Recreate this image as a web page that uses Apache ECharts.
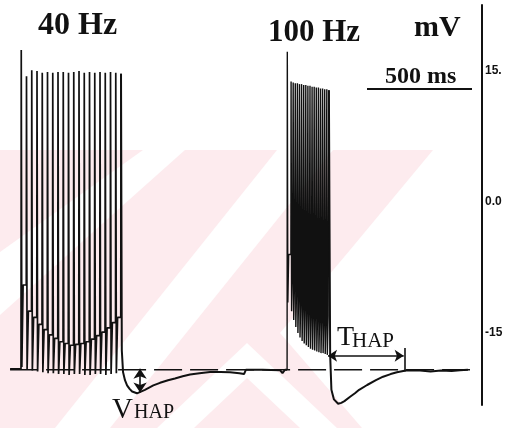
<!DOCTYPE html>
<html><head><meta charset="utf-8">
<script src="https://cdn.jsdelivr.net/npm/echarts@6/dist/echarts.min.js"></script>
<style>html,body{margin:0;padding:0;background:#fff}#c{width:507px;height:428px}</style>
</head><body><div id="c"></div>
<script>
// ---- data (ms, mV) ----
const restingMv = -19.2;
const preBaselineTimes = [-52, 0];
const preBaselineValues = [-19.1, -19.1];

const spikeTimes40 = [0,25,50,75,100,125,150,175,200,225,250,275,300,325,350,375,400,425,450,475];
const spikePeaks40 = [17.4,14.4,15.1,15.0,14.8,14.9,14.8,14.9,14.9,14.8,14.9,15.0,14.8,14.9,14.8,14.9,14.8,14.9,14.8,14.7];
const spikeTroughs40 = [-18.9,-19.2,-19.3,-19.4,-19.5,-19.6,-19.6,-19.7,-19.7,-19.8,-19.7,-19.7,-19.8,-19.8,-19.7,-19.7,-19.8,-19.7,-19.6];
const spikeAdp40 = [-9.5,-12.5,-13.2,-14.0,-14.6,-15.2,-15.6,-16.0,-16.2,-16.4,-16.3,-16.2,-16.0,-15.7,-15.3,-14.9,-14.4,-13.8,-13.2];

const ahp40Times = [480,486,495,505,517,529,552,590,630,662,700,733,770,805,850,900,950,995,1040,1062,1071,1150,1233,1245,1257,1267];
const ahp40Values = [-17.0,-19.5,-20.4,-21.0,-21.4,-21.7,-21.9,-21.5,-21.0,-20.7,-20.4,-20.2,-19.95,-19.75,-19.6,-19.45,-19.45,-19.5,-19.6,-19.7,-19.2,-19.2,-19.25,-19.6,-19.2,-19.2];

const spikeTimes100 = [1267,1285,1295,1305,1315,1325,1335,1345,1355,1365,1375,1385,1395,1405,1415,1425,1435,1445,1455,1465];
const spikePeaks100 = [17.2,13.8,13.7,13.6,13.6,13.5,13.5,13.4,13.4,13.3,13.3,13.2,13.2,13.1,13.1,13.0,13.0,12.9,12.9,12.8];
const spikeTroughs100 = [-11.5,-12.5,-13.5,-14.3,-15.0,-15.5,-15.9,-16.2,-16.4,-16.6,-16.8,-16.9,-17.0,-17.1,-17.2,-17.3,-17.3,-17.4,-17.5];
const spikeAdp100 = [-6,-8,-9,-9.5,-10,-10.5,-11,-11,-11.5,-11.5,-12,-12,-12,-12.5,-12.5,-12.5,-13,-13,-13];

const ahp100Times = [1472,1478,1490,1510,1525,1540,1567,1590,1610,1648,1690,1724,1760,1790,1838,1900,1950,2000,2050,2090,2128];
const ahp100Values = [-17.5,-21.5,-22.6,-23.1,-23.0,-22.8,-22.3,-21.9,-21.5,-20.95,-20.4,-20.0,-19.7,-19.5,-19.25,-19.3,-19.4,-19.3,-19.35,-19.25,-19.2];

// spike waveform template: ms after onset of peak, trough, after-depolarisation
const shape40 = [1.2, 4, 10];
const shape100 = [1.0, 3.5, 7.5];

const refLineTimes = [-52, 2138];
const yTickValues = [15, 0, -15];
const yTickLabels = ['15.', '0.0', '-15'];

// annotation values
const vhapTime = 567, vhapTop = -19.1, vhapBottom = -21.8;
const thapStart = 1462, thapEnd = 1822, thapLevel = -17.6, thapTickTime = 1829, thapTickTop = -16.7, thapTickBottom = -19.4;

function zip(a, b) { return a.map((v, i) => [v, b[i]]); }
function buildTrain(times, peaks, troughs, adps, shape, startLevel) {
  const pts = [];
  for (let i = 0; i < times.length; i++) {
    const t = times[i];
    pts.push([t, i === 0 ? startLevel : adps[i - 1]]);
    pts.push([t + shape[0], peaks[i]]);
    if (i < times.length - 1) {
      pts.push([t + shape[1], troughs[i]]);
      pts.push([t + shape[2], adps[i]]);
    }
  }
  return pts;
}

const train40 = zip(preBaselineTimes, preBaselineValues).concat(
  buildTrain(spikeTimes40, spikePeaks40, spikeTroughs40, spikeAdp40, shape40, preBaselineValues[1]));
const ahp40 = [train40[train40.length - 1]].concat(zip(ahp40Times, ahp40Values));
const train100 = buildTrain(spikeTimes100, spikePeaks100, spikeTroughs100, spikeAdp100, shape100, restingMv);
const ahp100 = [train100[train100.length - 1]].concat(zip(ahp100Times, ahp100Values));

const chart = echarts.init(document.getElementById('c'), null, {renderer: 'canvas'});
const ink = '#111';
const serif = '"Liberation Serif", "DejaVu Serif", serif';

const pink = '#fdebee';
const graphics = [
  {type: 'polygon', z: 0, shape: {points: [[0,150],[433,150],[350,250],[280,333],[362,428],[0,428]]}, style: {fill: pink}},
  {type: 'polygon', z: 0, shape: {points: [[0,252],[143,150],[185,150],[0,315]]}, style: {fill: '#fff'}},
  {type: 'polygon', z: 0, shape: {points: [[55,428],[277,150],[333,150],[110,428]]}, style: {fill: '#fff'}},
  {type: 'polygon', z: 0, shape: {points: [[157,428],[247,343],[337,428],[300,428],[247,378],[194,428]]}, style: {fill: '#fff'}},
  {type: 'text', z: 10, x: 38, y: 26, style: {text: '40 Hz', font: 'bold 32px ' + serif, fill: ink, align: 'left', verticalAlign: 'middle'}},
  {type: 'text', z: 10, x: 268, y: 33, style: {text: '100 Hz', font: 'bold 31px ' + serif, fill: ink, align: 'left', verticalAlign: 'middle'}},
  {type: 'text', z: 10, x: 414, y: 28, style: {text: 'mV', font: 'bold 30px ' + serif, fill: ink, align: 'left', verticalAlign: 'middle'}},
  {type: 'text', z: 10, x: 385, y: 77, style: {text: '500 ms', font: 'bold 24px ' + serif, fill: ink, align: 'left', verticalAlign: 'middle'}},
  {type: 'line', z: 10, shape: {x1: 367, y1: 89, x2: 472, y2: 89}, style: {stroke: ink, lineWidth: 2}},
  {type: 'text', z: 10, x: 112, y: 410, style: {text: 'V', font: '29px ' + serif, fill: ink, align: 'left', verticalAlign: 'middle'}},
  {type: 'text', z: 10, x: 134, y: 413, style: {text: 'HAP', font: '20px ' + serif, fill: ink, align: 'left', verticalAlign: 'middle'}},
  {type: 'text', z: 10, x: 337, y: 338, style: {text: 'T', font: '28px ' + serif, fill: ink, align: 'left', verticalAlign: 'middle'}},
  {type: 'text', z: 10, x: 352, y: 341, style: {text: 'HAP', font: '21px ' + serif, fill: ink, align: 'left', verticalAlign: 'middle'}}
];

chart.setOption({
  animation: false,
  backgroundColor: '#fff',
  grid: {left: 0, right: 25, top: 5, bottom: 23, outerBoundsMode: 'none', containLabel: false},
  xAxis: {type: 'value', min: -100, max: 2195, show: false},
  yAxis: {
    type: 'value', position: 'right', min: -23.24, max: 22.56,
    axisLine: {show: true, onZero: false, lineStyle: {color: ink, width: 2}},
    axisTick: {show: false},
    splitLine: {show: false},
    axisLabel: {
      show: true, customValues: yTickValues, margin: 3,
      color: ink, fontWeight: 'bold', fontSize: 12, fontFamily: '"Liberation Sans", Arial, sans-serif',
      formatter: v => { const i = yTickValues.findIndex(x => Math.abs(x - v) < 1e-6); return i >= 0 ? yTickLabels[i] : ''; }
    }
  },
  graphic: graphics,
  series: [
    {type: 'line', name: 'ref', data: refLineTimes.map(t => [t, restingMv]), showSymbol: false, silent: true, z: 3,
     lineStyle: {color: ink, width: 1.5, type: [28, 8]}},
    {type: 'line', name: 'train40', data: train40, showSymbol: false, z: 4, lineStyle: {color: ink, width: 1.7}},
    {type: 'line', name: 'ahp40', data: ahp40, showSymbol: false, z: 4, lineStyle: {color: ink, width: 2}},
    {type: 'line', name: 'train100', data: train100, showSymbol: false, z: 4, lineStyle: {color: ink, width: 1.4}},
    {type: 'line', name: 'ahp100', data: ahp100, showSymbol: false, z: 4, lineStyle: {color: ink, width: 2}},
    {type: 'line', name: 'annot', data: [], z: 5,
     markLine: {
       silent: true, animation: false, label: {show: false},
       lineStyle: {color: ink, width: 1.6, type: 'solid'},
       data: [
         [{coord: [vhapTime, vhapTop], symbol: 'arrow', symbolSize: 10}, {coord: [vhapTime, vhapBottom], symbol: 'arrow', symbolSize: 10}],
         [{coord: [thapStart, thapLevel], symbol: 'arrow', symbolSize: 9}, {coord: [thapEnd, thapLevel], symbol: 'arrow', symbolSize: 9}],
         [{coord: [thapTickTime, thapTickTop], symbol: 'none'}, {coord: [thapTickTime, thapTickBottom], symbol: 'none'}]
       ]
     }}
  ]
});
</script>
</body></html>
